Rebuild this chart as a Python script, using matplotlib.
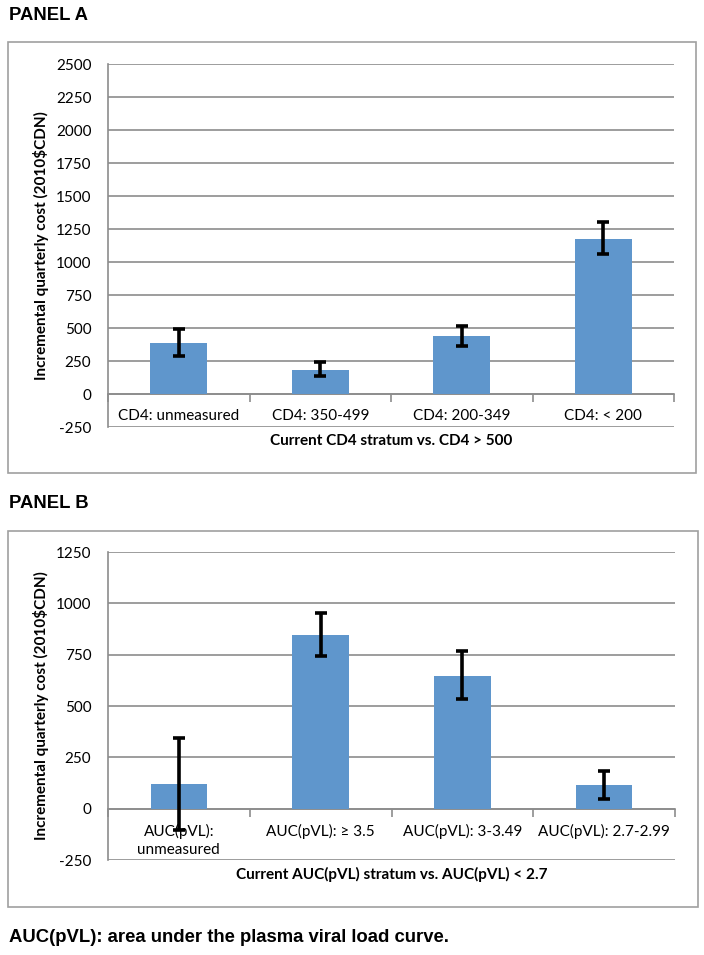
import matplotlib
matplotlib.use("Agg")
import matplotlib.pyplot as plt
from matplotlib.patches import Rectangle
import numpy as np

plt.rcParams["font.family"] = ["Lato", "DejaVu Sans"]
plt.rcParams["axes.unicode_minus"] = False

# Panel A data
cd4_labels = ["CD4: unmeasured", "CD4: 350-499", "CD4: 200-349", "CD4: < 200"]
cd4_values = [386, 182, 442, 1176]
cd4_low = [285, 133, 363, 1057]
cd4_high = [490, 241, 518, 1303]

# Panel B data
auc_labels = ["AUC(pVL):\nunmeasured", "AUC(pVL): \u2265 3.5", "AUC(pVL): 3-3.49", "AUC(pVL): 2.7-2.99"]
auc_values = [122, 846, 647, 115]
auc_low = [-103, 742, 535, 49]
auc_high = [345, 953, 767, 185]

BAR_COLOR = "#5f96cc"
GRID_COLOR = "#8c8c8c"
W, H = 704, 955


def fig_rect(x0, y0, x1, y1):
    """Pixels (top-left origin) -> figure fraction rect."""
    return [x0 / W, 1 - y1 / H, (x1 - x0) / W, (y1 - y0) / H]


def draw_panel(ax, labels, values, low, high, ymax, xlabel, xlabel_y):
    x = np.arange(len(values))
    vals = np.array(values)
    yerr = [vals - np.array(low), np.array(high) - vals]
    ax.bar(x, vals, width=0.4, color=BAR_COLOR, zorder=3)
    ax.errorbar(x, vals, yerr=yerr, fmt="none", ecolor="black",
                elinewidth=2.6, capsize=4, capthick=2.6, zorder=4)

    ax.set_xlim(-0.5, len(values) - 0.5)
    ax.set_ylim(-250, ymax)
    ax.set_yticks(np.arange(-250, ymax + 1, 250))
    ax.yaxis.grid(True, color=GRID_COLOR, linewidth=1.2, zorder=0)
    ax.set_axisbelow(True)

    for s in ["top", "right"]:
        ax.spines[s].set_visible(False)
    ax.spines["left"].set_color(GRID_COLOR)
    ax.spines["left"].set_linewidth(1.2)
    ax.spines["bottom"].set_position(("data", 0))
    ax.spines["bottom"].set_color(GRID_COLOR)
    ax.spines["bottom"].set_linewidth(1.2)
    ax.spines["bottom"].set_zorder(2)

    ax.set_xticks(x)
    ax.set_xticklabels(labels, fontsize=11, linespacing=1.35)
    ax.set_xticks(np.arange(-0.5, len(values), 1.0), minor=True)
    ax.tick_params(axis="x", which="major", length=0, pad=11)
    ax.tick_params(axis="x", which="minor", length=6, width=1.2,
                   color=GRID_COLOR, direction="out")
    ax.tick_params(axis="y", length=0, labelsize=11, pad=12)
    ax.set_ylabel("Incremental quarterly cost (2010\\$CDN)", fontsize=11,
                  fontweight="bold", labelpad=5)
    ax.text(0.5, xlabel_y, xlabel, transform=ax.transAxes, ha="center",
            va="center", fontsize=11, fontweight="bold")


fig = plt.figure(figsize=(7.04, 9.55), dpi=100)

# outer boxes
for (x0, y0, x1, y1) in [(8, 42, 696, 473), (8, 531, 698, 907)]:
    fig.patches.append(Rectangle((x0 / W, 1 - y1 / H), (x1 - x0) / W, (y1 - y0) / H,
                                 transform=fig.transFigure, fill=False,
                                 edgecolor="#a0a0a0", linewidth=1.2))

head_font = ["Liberation Sans", "DejaVu Sans"]
fig.text(9 / W, 1 - 15 / H, "PANEL A", fontsize=13.3, fontweight="bold",
         va="center", family=head_font)
fig.text(9 / W, 1 - 503 / H, "PANEL B", fontsize=13.3, fontweight="bold",
         va="center", family=head_font)
fig.text(9 / W, 1 - 937 / H, "AUC(pVL): area under the plasma viral load curve.",
         fontsize=13.3, fontweight="bold", va="center", family=head_font)

ax_a = fig.add_axes(fig_rect(108, 64, 674, 427))
draw_panel(ax_a, cd4_labels, cd4_values, cd4_low, cd4_high, 2500,
           "Current CD4 stratum vs. CD4 > 500", -14 / 363)

ax_b = fig.add_axes(fig_rect(108, 552, 675, 860))
draw_panel(ax_b, auc_labels, auc_values, auc_low, auc_high, 1250,
           "Current AUC(pVL) stratum vs. AUC(pVL) < 2.7", -14 / 308)

fig.savefig("out.png", dpi=100)
